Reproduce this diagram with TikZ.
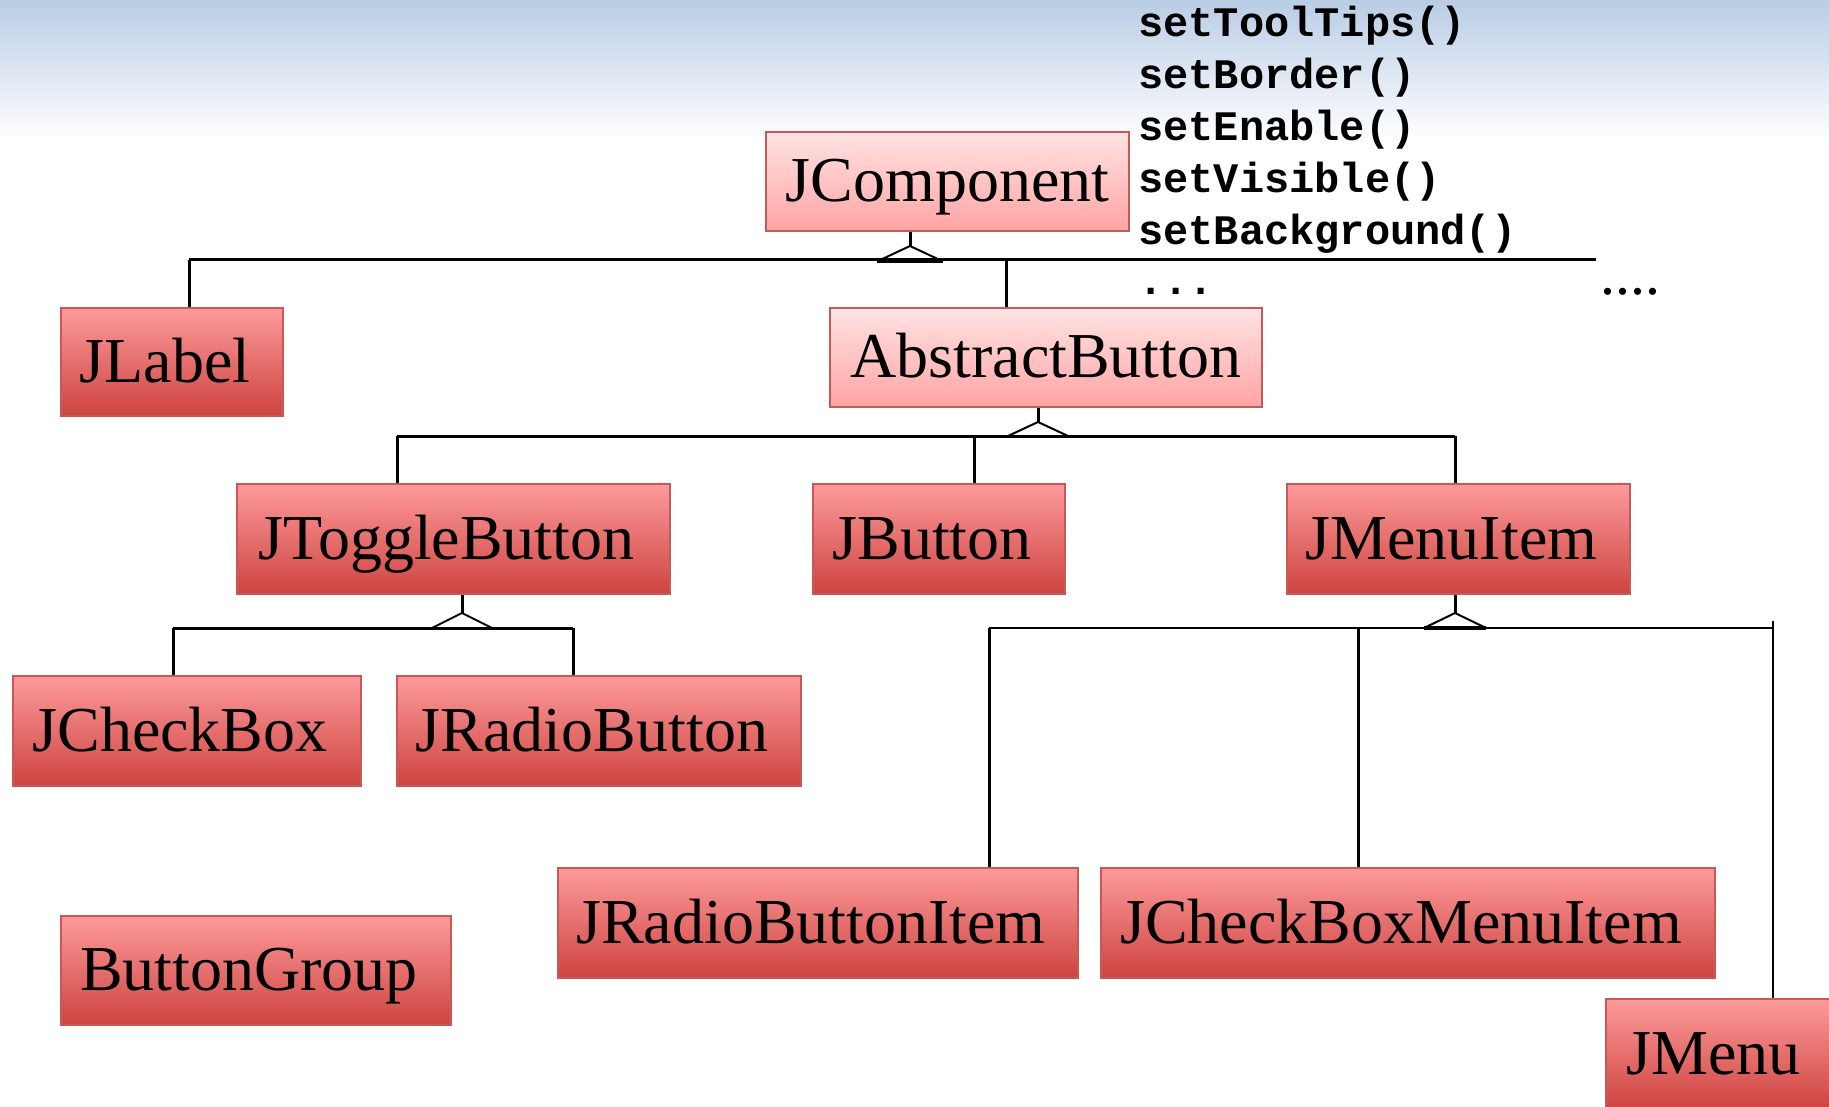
\documentclass[tikz,border=0pt]{standalone}
\usepackage{fontspec}
\setmainfont{Liberation Serif}
\newfontfamily\codefont{Liberation Mono}
\usetikzlibrary{calc}

\definecolor{skytop}{HTML}{B9CDE5}
\definecolor{redtop}{HTML}{FD9A9A}
\definecolor{redbot}{HTML}{CD4440}
\definecolor{pinktop}{HTML}{FFE3E3}
\definecolor{pinkbot}{HTML}{FFA4A4}
\definecolor{boxedge}{HTML}{C55A57}

\begin{document}
\begin{tikzpicture}[x=1pt,y=-1pt,
  clsbase/.style={draw=boxedge, line width=1.5pt, inner sep=0pt,
    font=\fontsize{64}{70}\selectfont, text height=45pt, text depth=5pt},
  cls/.style={clsbase, execute at begin node={\hspace*{-14pt}},
    top color=redtop, bottom color=redbot},
  clslight/.style={clsbase, top color=pinktop, bottom color=pinkbot},
  wire/.style={line width=3pt},
  thinwire/.style={line width=2.5pt},
  gen/.style={line width=2pt, line join=miter},
  genbase/.style={line width=4.5pt},
  meth/.style={font=\codefont\bfseries\fontsize{42}{50}\selectfont,
    anchor=base west, inner sep=0pt}]

% page and background band
\useasboundingbox (0,0) rectangle (1829,1107);
\fill[white] (0,0) rectangle (1829,1107);
\shade[top color=skytop, bottom color=white] (0,0) rectangle (1829,140);

% classes
\node[clslight, minimum width=363pt, minimum height=99pt] (jc) at (947.5,181.5) {JComponent};
\node[cls, minimum width=222pt, minimum height=108pt] (jlabel) at (172,362) {JLabel};
\node[clslight, minimum width=432pt, minimum height=99pt] (ab) at (1046,357.5) {AbstractButton};
\node[cls, minimum width=433pt, minimum height=110pt] (jtb) at (453.5,539) {JToggleButton};
\node[cls, minimum width=252pt, minimum height=110pt] (jbtn) at (939,539) {JButton};
\node[cls, minimum width=343pt, minimum height=110pt] (jmi) at (1458.5,539) {JMenuItem};
\node[cls, minimum width=348pt, minimum height=110pt] (jcb) at (187,731) {JCheckBox};
\node[cls, minimum width=404pt, minimum height=110pt] (jrb) at (599,731) {JRadioButton};
\node[cls, minimum width=520pt, minimum height=110pt] (jrbi) at (818,923) {JRadioButtonItem};
\node[cls, minimum width=614pt, minimum height=110pt] (jcbmi) at (1408,923) {JCheckBoxMenuItem};
\node[cls, minimum width=390pt, minimum height=109pt] (bg) at (256,970.5) {ButtonGroup};
\node[cls, minimum width=229pt, minimum height=110pt] (jmenu) at (1720.5,1054) {JMenu};

% methods of JComponent
\node[meth] (m1) at (1138,37) {setToolTips()};
\node[meth] (m2) at (1138,89) {setBorder()};
\node[meth] (m3) at (1138,141) {setEnable()};
\node[meth] (m4) at (1138,193) {setVisible()};
\node[meth] (m5) at (1138,245) {setBackground()};
\node[meth] (m6) at (1138,295) {...};
\node[anchor=base west, inner sep=0pt, font=\fontsize{60}{66}\selectfont] (more) at (1600,295) {....};

% JComponent subclasses
\coordinate (jcTip) at (910,246);
\coordinate (jcBus) at (910,261);
\coordinate (b1L) at (189,260);
\coordinate (b1R) at (1596,260);
\coordinate (b1ab) at (1006,260);
\draw[wire] (jc.south -| jcTip) -- (jcTip);
\draw[wire] (b1L) -- (b1R);
\draw[gen] ($(jcBus)+(-32,0)$) -- (jcTip) -- ($(jcBus)+(32,0)$);
\draw[genbase] ($(jcBus)+(-33,0)$) -- ($(jcBus)+(33,0)$);
\draw[wire] (b1L) -- (b1L |- jlabel.north);
\draw[wire] (b1ab) -- (b1ab |- ab.north);

% AbstractButton subclasses
\coordinate (abTip) at (1038,422);
\coordinate (abBus) at (1038,436);
\coordinate (b2L) at (397,436);
\coordinate (b2M) at (974,436);
\coordinate (b2R) at (1455,436);
\draw[wire] (ab.south -| abTip) -- (abTip);
\draw[wire] (b2L) -- (b2R);
\draw[gen] ($(abBus)+(-30,0)$) -- (abTip) -- ($(abBus)+(30,0)$);
\draw[wire] (b2L) -- (b2L |- jtb.north);
\draw[wire] (b2M) -- (b2M |- jbtn.north);
\draw[wire] (b2R) -- (b2R |- jmi.north);

% JToggleButton subclasses
\coordinate (tbTip) at (462,613);
\coordinate (tbBus) at (462,628);
\coordinate (b3L) at (173,628);
\coordinate (b3R) at (573,628);
\draw[wire] (jtb.south -| tbTip) -- (tbTip);
\draw[wire] (b3L) -- (b3R);
\draw[gen] ($(tbBus)+(-30,0)$) -- (tbTip) -- ($(tbBus)+(30,0)$);
\draw[wire] (b3L) -- (b3L |- jcb.north);
\draw[wire] (b3R) -- (b3R |- jrb.north);

% JMenuItem subclasses
\coordinate (miTip) at (1455,613);
\coordinate (miBus) at (1455,628);
\coordinate (b4L) at (989,628);
\coordinate (b4M) at (1358,628);
\coordinate (b4R) at (1774,628);
\coordinate (b4T) at (1773,621);
\draw[wire] (jmi.south -| miTip) -- (miTip);
\draw[thinwire] (b4L) -- (b4R);
\draw[gen] ($(miBus)+(-31,0)$) -- (miTip) -- ($(miBus)+(31,0)$);
\draw[genbase] ($(miBus)+(-31,0)$) -- ($(miBus)+(31,0)$);
\draw[wire] (b4L) -- (b4L |- jrbi.north);
\draw[wire] (b4M) -- (b4M |- jcbmi.north);
\draw[thinwire] (b4T) -- (b4T |- jmenu.north);
\end{tikzpicture}
\end{document}
